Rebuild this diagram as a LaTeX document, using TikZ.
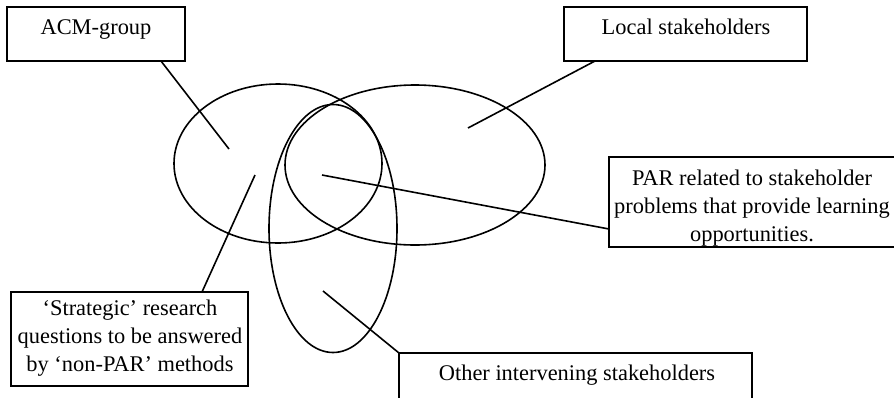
\documentclass[tikz,border=0pt]{standalone}
\usepackage{fontspec}
\setmainfont{Liberation Serif}
\begin{document}
\begin{tikzpicture}[x=1pt, y=-1pt, line width=1.6pt,
  box/.style={draw, rectangle, inner sep=0pt, outer sep=0pt, anchor=north west},
  txt/.style={font=\fontsize{22.4}{28}\selectfont, align=center, inner sep=0pt, anchor=base}]
  \useasboundingbox (0,0) rectangle (894,397);

  % overlapping sets
  \draw (278,163.5) ellipse [x radius=104pt, y radius=79.5pt];
  \draw (415,165) ellipse [x radius=130pt, y radius=80pt];
  \draw (333,228.5) ellipse [x radius=64pt, y radius=124pt];

  % label boxes
  \node[box, minimum width=178pt, minimum height=54pt] (acm) at (7,7) {};
  \node[box, minimum width=243pt, minimum height=54pt] (loc) at (564,7) {};
  \node[box, minimum width=287pt, minimum height=90pt] (par) at (609,157) {};
  \node[box, minimum width=237pt, minimum height=94pt] (strat) at (11,292) {};
  \node[box, minimum width=353pt, minimum height=60pt] (other) at (399,353) {};

  % box texts (base anchor of a multi-line node sits on its last line)
  \node[txt] (acmtxt) at (96,34) {ACM-group};
  \node[txt] (loctxt) at (686,34) {Local stakeholders};
  \node[txt] (partxt) at (752,241) {PAR related to stakeholder\\problems that provide learning\\opportunities.};
  \node[txt] (strattxt) at (130,371) {‘Strategic’ research\\questions to be answered\\by ‘non-PAR’ methods};
  \node[txt] (othertxt) at (577,380) {Other intervening stakeholders};

  % pointer ends inside the sets
  \coordinate (acmend) at (229,149);
  \coordinate (locend) at (468,128);
  \coordinate (parend) at (322,175);
  \coordinate (stratend) at (255,175);
  \coordinate (otherend) at (323,291);

  % pointers
  \draw ([xshift=154pt]acm.south west) -- (acmend);
  \draw ([xshift=31pt]loc.south west) -- (locend);
  \draw ([yshift=-72pt]par.north west) -- (parend);
  \draw ([xshift=191pt]strat.north west) -- (stratend);
  \draw (other.north west) -- (otherend);
\end{tikzpicture}
\end{document}
